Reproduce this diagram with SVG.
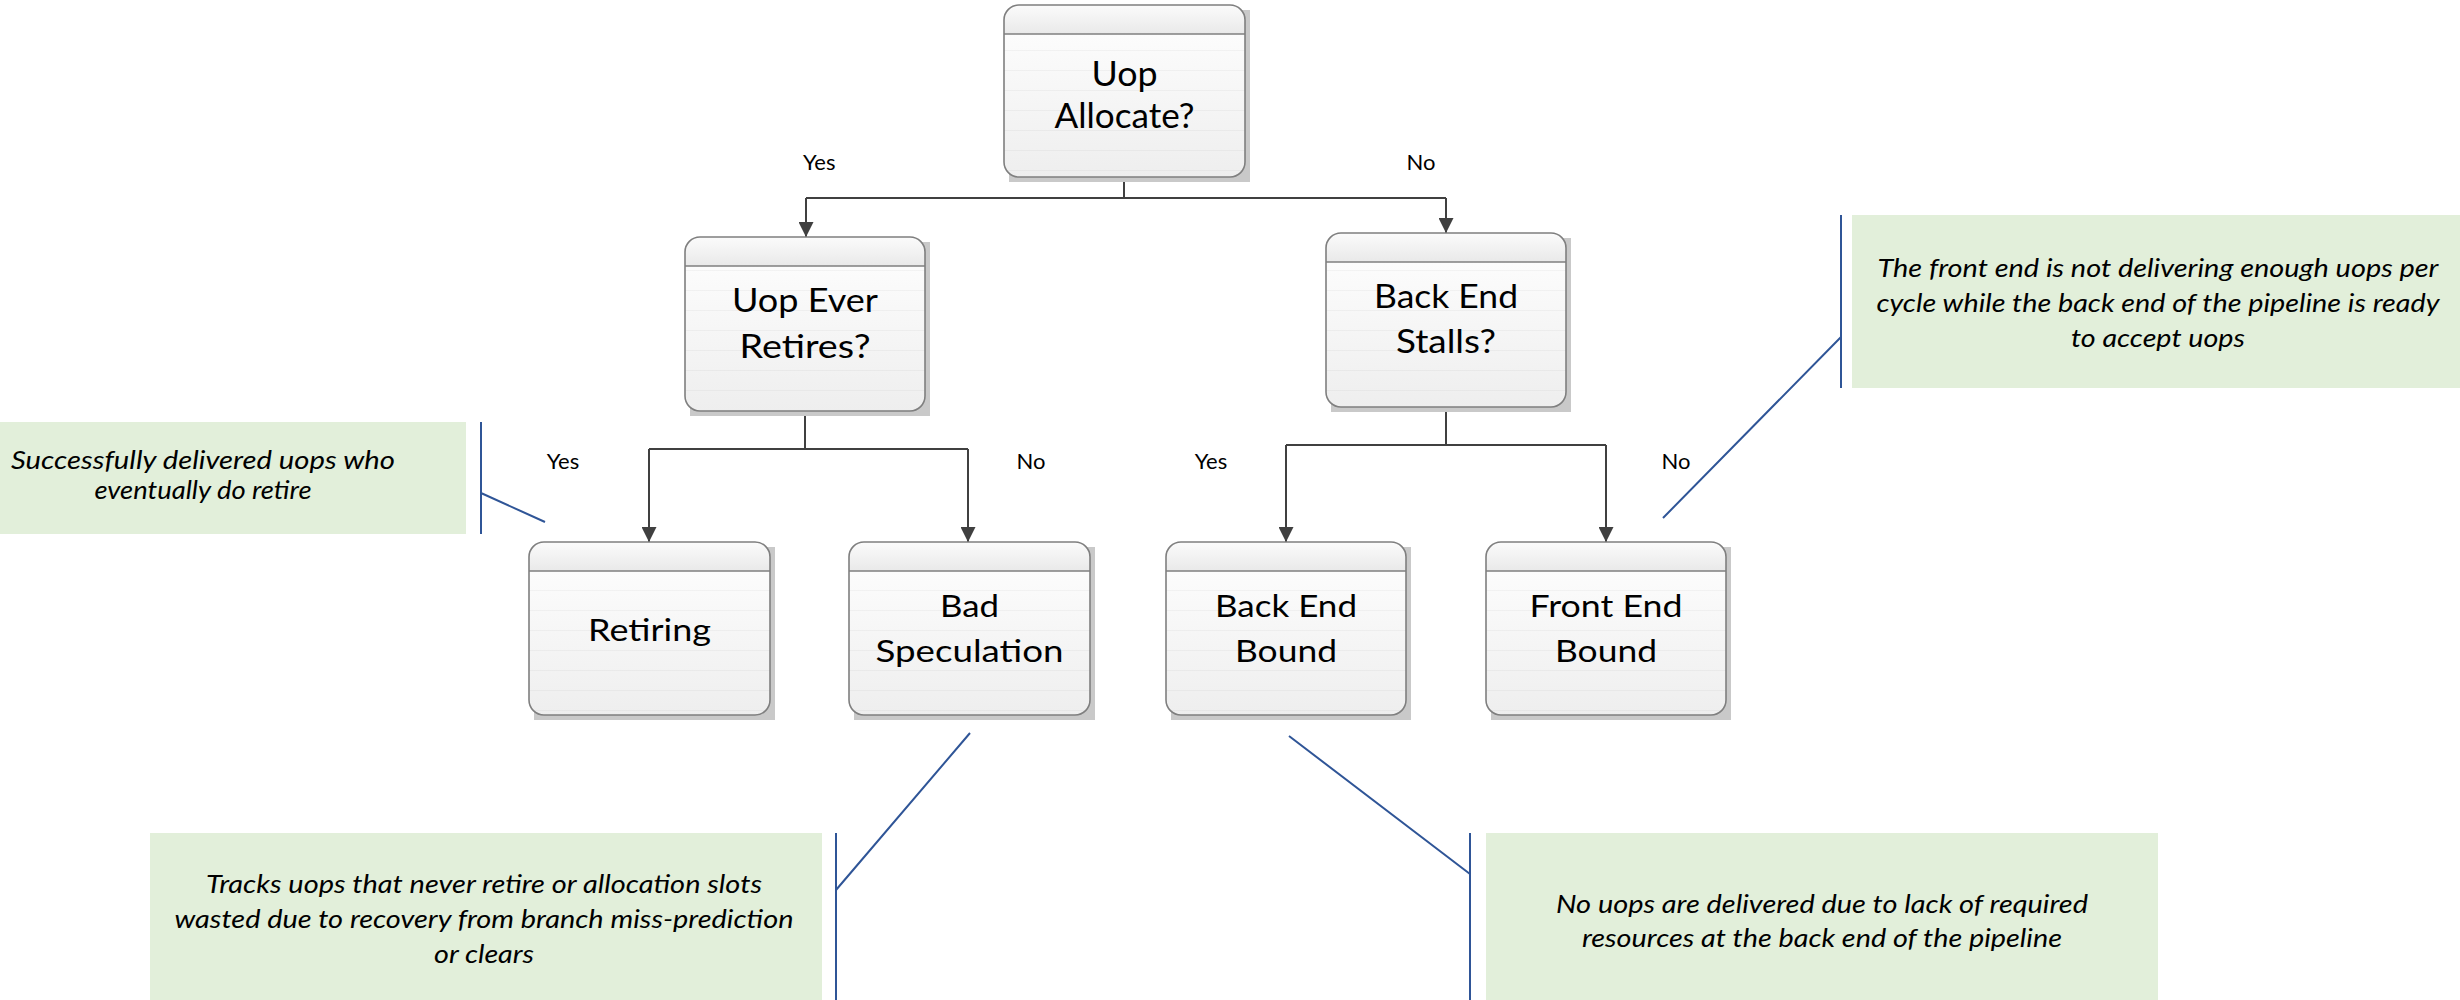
<svg xmlns="http://www.w3.org/2000/svg" width="2460" height="1000" viewBox="0 0 2460 1000">
<style>
.shadow{fill:#c9c9c9}
.body{fill:url(#bodyGrad);stroke:none}
.stripe{fill:url(#stripes);stroke:none}
.head{fill:url(#headGrad);stroke:none}
.outline{fill:none;stroke:#7f7f7f;stroke-width:1.6}
.hline{stroke:#7f7f7f;stroke-width:1.6}
.ntxt{font-family:Lato,"Open Sans","Liberation Sans",sans-serif;fill:#000;text-anchor:middle}
.lbl{font-family:Lato,"Open Sans","Liberation Sans",sans-serif;font-size:22px;fill:#000}
.conn{fill:none;stroke:#404040;stroke-width:2}
.note{fill:#E2EFDA}
.callout{fill:none;stroke:#2F5597;stroke-width:2}
.ntext{font-family:Lato,"Open Sans","Liberation Sans",sans-serif;font-style:italic;font-size:25px;fill:#000;text-anchor:middle}
</style>
<defs>
<linearGradient id="bodyGrad" x1="0" y1="0" x2="0" y2="1">
<stop offset="0" stop-color="#ffffff"/>
<stop offset="1" stop-color="#eeeeee"/>
</linearGradient>
<linearGradient id="headGrad" x1="0" y1="0" x2="0" y2="1">
<stop offset="0" stop-color="#fbfbfb"/>
<stop offset="1" stop-color="#e9e9e9"/>
</linearGradient>
<pattern id="stripes" x="0" y="0" width="40" height="20" patternUnits="userSpaceOnUse">
<rect x="0" y="10" width="40" height="1" fill="#000" fill-opacity="0.035"/>
</pattern>
<marker id="arrow" viewBox="0 0 15 15" refX="15" refY="7.5" markerWidth="15" markerHeight="15" markerUnits="userSpaceOnUse" orient="auto">
<path d="M0,0 L15,7.5 L0,15 Z" fill="#404040"/>
</marker>
</defs>

<g id="connectors">
<path class="conn" d="M1124,177 V198"/>
<path class="conn" d="M806,198 H1446"/>
<path class="conn" d="M806,198 V237" marker-end="url(#arrow)"/>
<path class="conn" d="M1446,198 V233" marker-end="url(#arrow)"/>
<path class="conn" d="M805,411 V449"/>
<path class="conn" d="M649,449 H968"/>
<path class="conn" d="M649,449 V542" marker-end="url(#arrow)"/>
<path class="conn" d="M968,449 V542" marker-end="url(#arrow)"/>
<path class="conn" d="M1446,407 V445"/>
<path class="conn" d="M1286,445 H1606"/>
<path class="conn" d="M1286,445 V542" marker-end="url(#arrow)"/>
<path class="conn" d="M1606,445 V542" marker-end="url(#arrow)"/>
<text class="lbl" x="803" y="170">Yes</text>
<text class="lbl" x="1421" y="170" text-anchor="middle">No</text>
<text class="lbl" x="563" y="469" text-anchor="middle">Yes</text>
<text class="lbl" x="1031" y="469" text-anchor="middle">No</text>
<text class="lbl" x="1211" y="469" text-anchor="middle">Yes</text>
<text class="lbl" x="1676" y="469" text-anchor="middle">No</text>
</g>

<g id="node-uop-allocate">
<rect class="shadow" x="1009" y="10" width="241" height="172"/>
<rect class="body" x="1004" y="5" width="241" height="172" rx="15"/>
<rect class="stripe" x="1004" y="5" width="241" height="172" rx="15"/>
<path class="head" d="M1004,34 V20 A15,15 0 0 1 1019,5 H1230 A15,15 0 0 1 1245,20 V34 Z"/>
<line class="hline" x1="1004" y1="34" x2="1245" y2="34"/>
<rect class="outline" x="1004" y="5" width="241" height="172" rx="15"/>
<text class="ntxt" font-size="35" x="1124.5" y="86" textLength="66" lengthAdjust="spacingAndGlyphs">Uop</text>
<text class="ntxt" font-size="35" x="1124.5" y="128" textLength="140" lengthAdjust="spacingAndGlyphs">Allocate?</text>
</g>

<g id="node-uop-ever-retires">
<rect class="shadow" x="690" y="242" width="240" height="174"/>
<rect class="body" x="685" y="237" width="240" height="174" rx="15"/>
<rect class="stripe" x="685" y="237" width="240" height="174" rx="15"/>
<path class="head" d="M685,266 V252 A15,15 0 0 1 700,237 H910 A15,15 0 0 1 925,252 V266 Z"/>
<line class="hline" x1="685" y1="266" x2="925" y2="266"/>
<rect class="outline" x="685" y="237" width="240" height="174" rx="15"/>
<text class="ntxt" font-size="32" x="805" y="312" textLength="146" lengthAdjust="spacingAndGlyphs">Uop Ever</text>
<text class="ntxt" font-size="32" x="805" y="358" textLength="131" lengthAdjust="spacingAndGlyphs">Retires?</text>
</g>

<g id="node-back-end-stalls">
<rect class="shadow" x="1331" y="238" width="240" height="174"/>
<rect class="body" x="1326" y="233" width="240" height="174" rx="15"/>
<rect class="stripe" x="1326" y="233" width="240" height="174" rx="15"/>
<path class="head" d="M1326,262 V248 A15,15 0 0 1 1341,233 H1551 A15,15 0 0 1 1566,248 V262 Z"/>
<line class="hline" x1="1326" y1="262" x2="1566" y2="262"/>
<rect class="outline" x="1326" y="233" width="240" height="174" rx="15"/>
<text class="ntxt" font-size="32" x="1446" y="308" textLength="144" lengthAdjust="spacingAndGlyphs">Back End</text>
<text class="ntxt" font-size="32" x="1446" y="353" textLength="100" lengthAdjust="spacingAndGlyphs">Stalls?</text>
</g>

<g id="node-retiring">
<rect class="shadow" x="534" y="547" width="241" height="173"/>
<rect class="body" x="529" y="542" width="241" height="173" rx="15"/>
<rect class="stripe" x="529" y="542" width="241" height="173" rx="15"/>
<path class="head" d="M529,571 V557 A15,15 0 0 1 544,542 H755 A15,15 0 0 1 770,557 V571 Z"/>
<line class="hline" x1="529" y1="571" x2="770" y2="571"/>
<rect class="outline" x="529" y="542" width="241" height="173" rx="15"/>
<text class="ntxt" font-size="31" x="649.5" y="641" textLength="123" lengthAdjust="spacingAndGlyphs">Retiring</text>
</g>

<g id="node-bad-speculation">
<rect class="shadow" x="854" y="547" width="241" height="173"/>
<rect class="body" x="849" y="542" width="241" height="173" rx="15"/>
<rect class="stripe" x="849" y="542" width="241" height="173" rx="15"/>
<path class="head" d="M849,571 V557 A15,15 0 0 1 864,542 H1075 A15,15 0 0 1 1090,557 V571 Z"/>
<line class="hline" x1="849" y1="571" x2="1090" y2="571"/>
<rect class="outline" x="849" y="542" width="241" height="173" rx="15"/>
<text class="ntxt" font-size="31" x="969.5" y="617" textLength="59" lengthAdjust="spacingAndGlyphs">Bad</text>
<text class="ntxt" font-size="31" x="969.5" y="662" textLength="188" lengthAdjust="spacingAndGlyphs">Speculation</text>
</g>

<g id="node-back-end-bound">
<rect class="shadow" x="1171" y="547" width="240" height="173"/>
<rect class="body" x="1166" y="542" width="240" height="173" rx="15"/>
<rect class="stripe" x="1166" y="542" width="240" height="173" rx="15"/>
<path class="head" d="M1166,571 V557 A15,15 0 0 1 1181,542 H1391 A15,15 0 0 1 1406,557 V571 Z"/>
<line class="hline" x1="1166" y1="571" x2="1406" y2="571"/>
<rect class="outline" x="1166" y="542" width="240" height="173" rx="15"/>
<text class="ntxt" font-size="31" x="1286" y="617" textLength="142" lengthAdjust="spacingAndGlyphs">Back End</text>
<text class="ntxt" font-size="31" x="1286" y="662" textLength="102" lengthAdjust="spacingAndGlyphs">Bound</text>
</g>

<g id="node-front-end-bound">
<rect class="shadow" x="1491" y="547" width="240" height="173"/>
<rect class="body" x="1486" y="542" width="240" height="173" rx="15"/>
<rect class="stripe" x="1486" y="542" width="240" height="173" rx="15"/>
<path class="head" d="M1486,571 V557 A15,15 0 0 1 1501,542 H1711 A15,15 0 0 1 1726,557 V571 Z"/>
<line class="hline" x1="1486" y1="571" x2="1726" y2="571"/>
<rect class="outline" x="1486" y="542" width="240" height="173" rx="15"/>
<text class="ntxt" font-size="31" x="1606" y="617" textLength="153" lengthAdjust="spacingAndGlyphs">Front End</text>
<text class="ntxt" font-size="31" x="1606" y="662" textLength="102" lengthAdjust="spacingAndGlyphs">Bound</text>
</g>

<g id="note-retiring">
<rect class="note" x="0" y="422" width="466" height="112"/>
<path class="callout" d="M481,422 V534 M481,493 L545,522"/>
<text class="ntext" font-size="24" x="203" y="469" textLength="384" lengthAdjust="spacingAndGlyphs">Successfully delivered uops who</text>
<text class="ntext" font-size="24" x="203" y="499" textLength="217" lengthAdjust="spacingAndGlyphs">eventually do retire</text>
</g>

<g id="note-front-end">
<rect class="note" x="1852" y="215" width="608" height="173"/>
<path class="callout" d="M1841,215 V388 M1841,337 L1663,518"/>
<text class="ntext" x="2158" y="277" textLength="561" lengthAdjust="spacingAndGlyphs">The front end is not delivering enough uops per</text>
<text class="ntext" x="2158" y="312" textLength="563" lengthAdjust="spacingAndGlyphs">cycle while the back end of the pipeline is  ready</text>
<text class="ntext" x="2158" y="347" textLength="174" lengthAdjust="spacingAndGlyphs">to accept uops</text>
</g>

<g id="note-bad-speculation">
<rect class="note" x="150" y="833" width="672" height="167"/>
<path class="callout" d="M836,833 V1000 M836,890 L970,733"/>
<text class="ntext" x="484" y="893" textLength="556" lengthAdjust="spacingAndGlyphs">Tracks uops that never retire  or allocation slots</text>
<text class="ntext" x="484" y="928" textLength="619" lengthAdjust="spacingAndGlyphs">wasted due to recovery from branch miss-prediction</text>
<text class="ntext" x="484" y="963" textLength="100" lengthAdjust="spacingAndGlyphs">or clears</text>
</g>

<g id="note-back-end">
<rect class="note" x="1486" y="833" width="672" height="167"/>
<path class="callout" d="M1470,833 V1000 M1289,736 L1470,874"/>
<text class="ntext" x="1822" y="913" textLength="532" lengthAdjust="spacingAndGlyphs">No uops are delivered due to lack of required</text>
<text class="ntext" x="1822" y="947" textLength="480" lengthAdjust="spacingAndGlyphs">resources at the back end of the pipeline</text>
</g>
</svg>
